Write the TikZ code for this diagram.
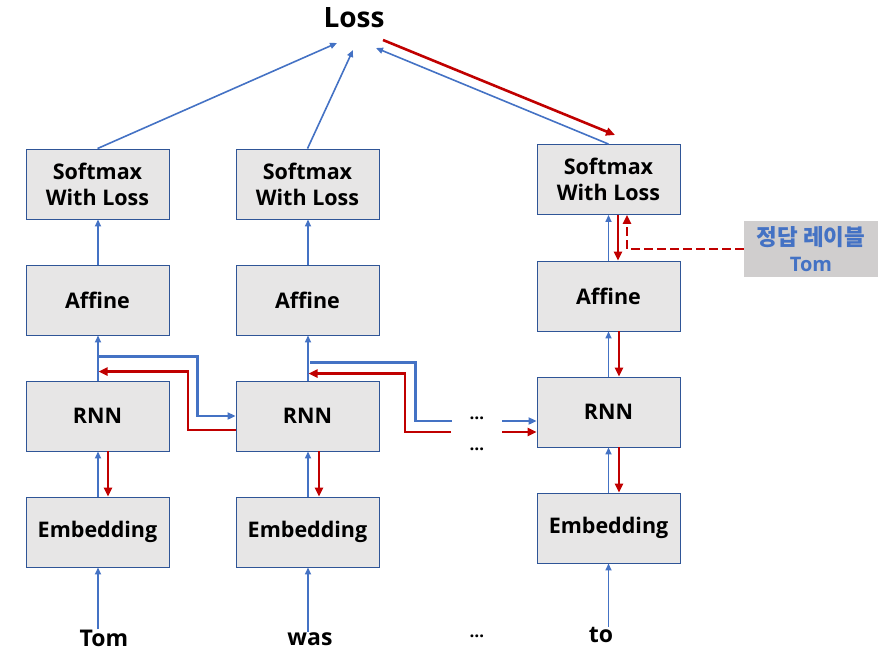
\documentclass[tikz,border=0pt]{standalone}
\usepackage{fontspec}
\setmainfont{Open Sans}
\newfontfamily\kr{Noto Sans CJK KR}
\usetikzlibrary{arrows.meta,calc}
\definecolor{bblue}{HTML}{4472C4}
\definecolor{rred}{HTML}{C00000}
\definecolor{boxfill}{HTML}{E7E6E6}
\definecolor{boxline}{HTML}{2F5597}
\definecolor{labfill}{HTML}{D0CECE}
\tikzset{
  layer/.style={draw=boxline,line width=0.9pt,fill=boxfill,minimum width=143pt,minimum height=70pt,
    align=center,font=\fontsize{21.5}{26}\selectfont\bfseries,inner sep=0pt},
  word/.style={font=\fontsize{23}{27}\selectfont\bfseries,inner sep=0pt},
  barrow/.style={draw=bblue,line width=1.6pt,-{Triangle[length=7pt,width=6pt]}},
  bline/.style={draw=bblue,line width=2.2pt},
  barrowthick/.style={draw=bblue,line width=2.2pt,-{Triangle[length=8pt,width=7pt]}},
  rarrow/.style={draw=rred,line width=2.6pt,-{Triangle[length=9pt,width=8pt]}},
  rline/.style={draw=rred,line width=2.6pt},
  dotsnode/.style={font=\fontsize{17}{18}\selectfont\bfseries,inner sep=0pt},
}
\begin{document}
\begin{tikzpicture}[x=1pt,y=-1pt]
\useasboundingbox (0,0) rectangle (893,666);
% column 1
\node[layer] (s1) at (97.5,184) {Softmax\\With Loss};
\node[layer] (a1) at (97.5,300) {Affine};
\node[layer] (r1) at (97.5,416) {RNN};
\node[layer] (e1) at (97.5,532) {Embedding};
% column 2
\node[layer] (s2) at (307.5,184) {Softmax\\With Loss};
\node[layer] (a2) at (307.5,300) {Affine};
\node[layer] (r2) at (307.5,416) {RNN};
\node[layer] (e2) at (307.5,532) {Embedding};
% column 3
\node[layer] (s3) at (608.5,179.5) {Softmax\\With Loss};
\node[layer] (a3) at (608.5,296) {Affine};
\node[layer] (r3) at (608.5,412) {RNN};
\node[layer] (e3) at (608.5,528) {Embedding};
% top
\node[font=\fontsize{28}{32}\selectfont\bfseries,inner sep=0pt] (loss) at (354,18) {Loss};
% words
\node[word,anchor=base] (w1) at (104,646) {Tom};
\node[word,anchor=base] (w2) at (310,645) {was};
\node[word,anchor=base] (w3) at (601,642) {to};
\node[dotsnode] (d0) at (477,636) {…};
\node[dotsnode] (d1) at (477,418) {…};
\node[dotsnode] (d2) at (477,449) {…};
% label
\node[fill=labfill,minimum width=134pt,minimum height=56pt,inner sep=0pt,align=center,
  text=bblue,font=\fontsize{20}{26}\selectfont\bfseries] (lab) at (811,249) {{\kr\bfseries\fontsize{22.5}{26}\selectfont 정답 레이블}\\Tom};

% loss connectors
\coordinate (l1) at (337,43);
\coordinate (l2) at (353,50);
\coordinate (l3) at (376,48);
\coordinate (lr) at (383,40);
\coordinate (s3r) at (615,135);
\draw[barrow] (s1.north) -- (l1);
\draw[barrow] (s2.north) -- (l2);
\draw[barrow] (s3.north) -- (l3);
\draw[rarrow] (lr) -- (s3r);

% column 1 verticals
\draw[barrow] ([xshift=0.5pt]a1.north) -- ([xshift=0.5pt]s1.south);
\draw[barrow] ([xshift=0.5pt]r1.north) -- ([xshift=0.5pt]a1.south);
\draw[barrow] ([xshift=0.5pt]e1.north) -- ([xshift=0.5pt]r1.south);
\draw[rarrow] ([xshift=10.5pt]r1.south) -- ([xshift=10.5pt]e1.north);
\draw[barrow] ([xshift=0.5pt]e1.south |- w1.north) -- ([xshift=0.5pt]e1.south);
% column 2 verticals
\draw[barrow] ([xshift=0.5pt]a2.north) -- ([xshift=0.5pt]s2.south);
\draw[barrow] ([xshift=0.5pt]r2.north) -- ([xshift=0.5pt]a2.south);
\draw[barrow] ([xshift=0.5pt]e2.north) -- ([xshift=0.5pt]r2.south);
\draw[rarrow] ([xshift=11.5pt]r2.south) -- ([xshift=11.5pt]e2.north);
\draw[barrow] ([xshift=0.5pt]e2.south |- w2.north) -- ([xshift=0.5pt]e2.south);
% column 3 verticals
\draw[barrow] ([xshift=0pt]a3.north) -- ([xshift=0pt]s3.south);
\draw[rarrow] ([xshift=9.5pt]s3.south) -- ([xshift=9.5pt]a3.north);
\draw[barrow] ([xshift=0pt]r3.north) -- ([xshift=0pt]a3.south);
\draw[rarrow] ([xshift=10.5pt]a3.south) -- ([xshift=10.5pt]r3.north);
\draw[barrow] ([xshift=0pt]e3.north) -- ([xshift=0pt]r3.south);
\draw[rarrow] ([xshift=10.5pt]r3.south) -- ([xshift=10.5pt]e3.north);
\draw[barrow] ([xshift=0pt]e3.south |- w3.north) -- ([xshift=0pt]e3.south);

% recurrent connections col1 -> col2
\draw[barrowthick] ($(r1.north)+(0.5,-24)$) -| ($(r1.east)+(28,0)$) -- (r2.west);
\draw[rarrow] ($(r2.west)+(0,14)$) -| ($(r1.north)+(90.5,-9)$) -- ($(r1.north)+(1,-9)$);
% col2 -> dots
\coordinate (b2end) at (452,421);
\coordinate (r2end) at (451,432);
\draw[bline] ($(r2.north)+(2.5,-18)$) -| ($(r2.east)+(36,0)$) |- (b2end);
\draw[rarrow] (r2end) -| ($(r2.north)+(97.5,-7)$) -- ($(r2.north)+(1,-7)$);
% dots -> col3
\coordinate (b3start) at (502,421);
\coordinate (r3start) at (502,432);
\draw[barrowthick] (b3start) -- (r3.west |- b3start);
\draw[rarrow] (r3start) -- (r3.west |- r3start);
% label dashed
\draw[rarrow,dash pattern=on 9pt off 4pt] (lab.west) -| ([xshift=18.5pt]s3.south);
\end{tikzpicture}
\end{document}
